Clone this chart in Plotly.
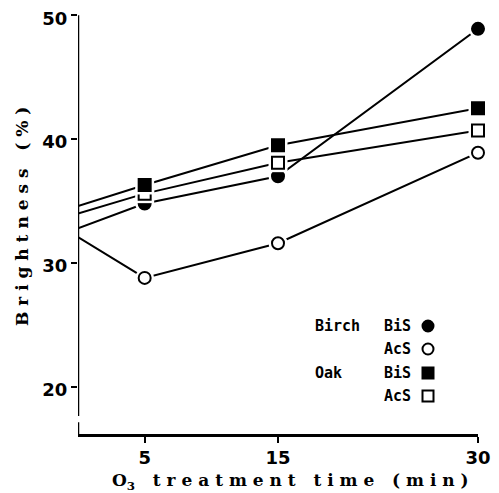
import plotly.graph_objects as go

# ---- data ----
times = [0, 5, 15, 30]
birch_bis = [32.8, 34.8, 37.0, 48.9]
birch_acs = [32.1, 28.8, 31.6, 38.9]
oak_acs = [34.0, 35.6, 38.1, 40.7]
oak_bis = [34.6, 36.3, 39.5, 42.5]
x_ticks = [5, 15, 30]
y_ticks = [20, 30, 40, 50]

OFF = 8  # page body margin
W, H = 499 - OFF, 493 - OFF
L, R, T, B = 78 - OFF, 21, 14 - OFF, 59
Y0, Y1 = 16.2, 50.1

fig = go.Figure()

series = [
    (birch_bis, "circle", "black"),
    (birch_acs, "circle-open", "white"),
    (oak_acs, "square-open", "white"),
    (oak_bis, "square", "black"),
]
order = [1, 0, 2, 3]
for i in order:
    ys, sym, fill = series[i]
    fig.add_trace(go.Scatter(x=times, y=ys, mode="lines",
                             line=dict(color="black", width=2), hoverinfo="skip"))
    base = sym.replace("-open", "")
    fig.add_trace(go.Scatter(x=times[1:], y=ys[1:], mode="markers",
                             marker=dict(symbol=base, size=19, color="white",
                                         line=dict(width=0)), hoverinfo="skip"))
    fig.add_trace(go.Scatter(x=times[1:], y=ys[1:], mode="markers",
                             marker=dict(symbol=base, size=12, color=fill,
                                         line=dict(color="black", width=2)),
                             hoverinfo="skip"))

# convert window pixels to paper coords
def px2x(px):
    return (px - OFF - L) / (W - L - R)

def py2y(py):
    return (H - B - (py - OFF)) / (H - T - B)

shapes = []
# y axis line with break
shapes.append(dict(type="line", xref="x", yref="y", x0=0, x1=0, y0=17.65, y1=50,
                   line=dict(color="black", width=2.5)))
shapes.append(dict(type="line", xref="x", yref="y", x0=-0.3, x1=0, y0=17.65, y1=17.65,
                   line=dict(color="black", width=2)))
shapes.append(dict(type="line", xref="x", yref="y", x0=0, x1=0, y0=Y0, y1=17.15,
                   line=dict(color="black", width=2.5)))
shapes.append(dict(type="line", xref="x", yref="y", x0=-0.3, x1=0, y0=17.15, y1=17.15,
                   line=dict(color="black", width=2)))

# legend
legend_rows = [
    ("Birch", "BiS", "circle", "black", 326),
    ("", "AcS", "circle", "white", 349),
    ("Oak", "BiS", "rect", "black", 373),
    ("", "AcS", "rect", "white", 396),
]
annotations = []
lfont = dict(family="DejaVu Sans Mono", size=15, color="black", weight="bold")
for wood, pulp, shp, fill, py in legend_rows:
    if wood:
        annotations.append(dict(text=wood, x=px2x(313), y=py2y(py), xref="paper", yref="paper",
                                xanchor="left", yanchor="middle", showarrow=False, font=lfont))
    annotations.append(dict(text=pulp, x=px2x(382), y=py2y(py), xref="paper", yref="paper",
                            xanchor="left", yanchor="middle", showarrow=False, font=lfont))
    r = 5.5
    shapes.append(dict(type=shp, xref="paper", yref="paper",
                       x0=px2x(428 - r), x1=px2x(428 + r), y0=py2y(py + r), y1=py2y(py - r),
                       fillcolor=fill, line=dict(color="black", width=2)))

def spaced(s, gap="\u00a0"):
    return gap.join(s)

W3 = "\u00a0\u00a0\u00a0"
tfont = dict(family="DejaVu Serif", size=17, color="black", weight="bold")
ytitle = spaced("Brightness") + W3 + spaced("(%)")
xtitle = ("O<sub>3</sub>" + W3 + spaced("treatment") + W3 +
          spaced("time") + W3 + spaced("(min)"))
annotations.append(dict(text=ytitle, x=px2x(22), y=py2y(217),
                        xref="paper", yref="paper", textangle=-90, showarrow=False,
                        xanchor="center", yanchor="middle", font=tfont))
annotations.append(dict(text=xtitle,
                        x=px2x(290), y=py2y(481), xref="paper", yref="paper", showarrow=False,
                        xanchor="center", yanchor="middle", font=tfont))

tickfont = dict(family="DejaVu Sans", size=18, color="black", weight="bold")
fig.update_layout(
    width=W, height=H, autosize=False,
    margin=dict(l=L, r=R, t=T, b=B, pad=0, autoexpand=False),
    paper_bgcolor="white", plot_bgcolor="white",
    showlegend=False,
    xaxis=dict(range=[0, 30], tickvals=x_ticks, ticktext=[str(v) for v in x_ticks],
               showgrid=False, zeroline=False, showline=True, linecolor="black", linewidth=2.5,
               ticks="outside", ticklen=6, tickwidth=2, tickcolor="black", tickfont=tickfont,
               automargin=False, ticklabeloverflow="allow"),
    yaxis=dict(range=[Y0, Y1], tickvals=y_ticks, ticktext=[str(v) for v in y_ticks],
               showgrid=False, zeroline=False, showline=False,
               ticks="outside", ticklen=6, tickwidth=2, tickcolor="black", tickfont=tickfont,
               automargin=False, ticklabeloverflow="allow", ticklabelshift=3),
    shapes=shapes, annotations=annotations,
)
for tr in fig.data:
    tr.cliponaxis = False

fig.write_html("out.html")
